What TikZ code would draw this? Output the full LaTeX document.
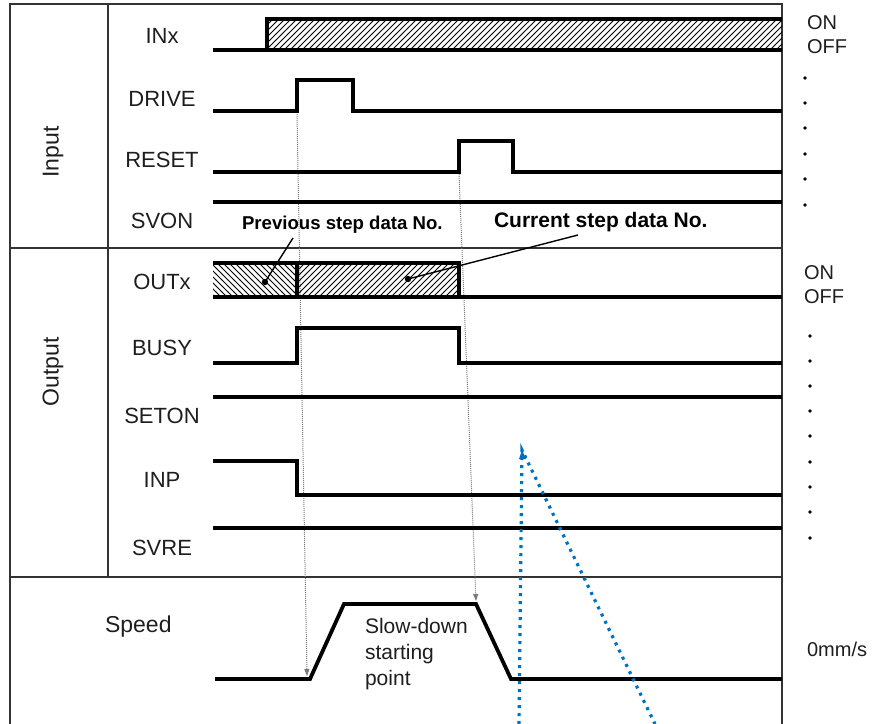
\documentclass[tikz,border=0pt]{standalone}
\usepackage{fontspec}
\setmainfont{Liberation Sans}
\usepackage{xcolor}
\usetikzlibrary{arrows.meta, patterns}
\definecolor{ChartBlue}{HTML}{0070C0}
\definecolor{ChartGray}{HTML}{7A7A7A}
\definecolor{ChartText}{HTML}{1E1E1E}

\begin{document}
\begin{tikzpicture}[x=0.5pt, y=-0.5pt,
  frame/.style={draw=black!80, line width=0.65pt},
  sig/.style={line width=1.9pt, line join=miter},
  siglabel/.style={anchor=base, font=\fontsize{11}{13}\selectfont, text=ChartText},
  grouplabel/.style={rotate=90, font=\fontsize{11.5}{13}\selectfont, text=ChartText},
  statelabel/.style={anchor=base west, align=left, font=\fontsize{10}{12}\selectfont, text=ChartText},
  notelabel/.style={anchor=base west, font=\bfseries\fontsize{9.3}{11}\selectfont},
  leader/.style={line width=0.7pt},
  guide/.style={draw=ChartGray, line width=0.5pt, dash pattern=on 0.5pt off 0.5pt, -{Triangle[length=3.5pt, width=2.5pt]}},
  callout/.style={draw=ChartBlue, line width=1.6pt, dash pattern=on 1.5pt off 2.5pt}
]
\useasboundingbox (0,0) rectangle (880,724);

% frame
\draw[frame] (10,724) -- (10,4) -- (782,4) -- (782,724);
\draw[frame] (10,248) -- (782,248);
\draw[frame] (10,577) -- (782,577);
\draw[frame] (108,4) -- (108,577);

% group and signal names
\node[grouplabel] (input) at (53,152) {Input};
\node[grouplabel] (output) at (53,372) {Output};
\node[siglabel] (inx) at (162,43) {INx};
\node[siglabel] (drive) at (162,106) {DRIVE};
\node[siglabel] (reset) at (162,167) {RESET};
\node[siglabel] (svon) at (162,228) {SVON};
\node[siglabel] (outx) at (162,289) {OUTx};
\node[siglabel] (busy) at (162,355) {BUSY};
\node[siglabel] (seton) at (162,423) {SETON};
\node[siglabel] (inp) at (162,487) {INP};
\node[siglabel] (svre) at (162,555) {SVRE};
\node[anchor=base west, font=\fontsize{11.5}{13}\selectfont, text=ChartText] (speed) at (98,632) {Speed};

% guides to the speed curve
\draw[guide] (297,114) -- (307,676);
\draw[guide] (459,174) -- (476,601);

% input signals
\fill[pattern=north east lines] (267,19) rectangle (782,50);
\draw[sig] (213,50) -- (267,50) -- (267,19) -- (782,19);
\draw[sig] (267,50) -- (782,50);
\draw[sig] (213,111) -- (297,111) -- (297,80) -- (353,80) -- (353,111) -- (782,111);
\draw[sig] (213,172) -- (459,172) -- (459,141) -- (513,141) -- (513,172) -- (782,172);
\draw[sig] (213,202) -- (782,202);

% output signals
\fill[pattern=north west lines] (213,263) rectangle (297,297);
\fill[pattern=north east lines] (297,263) rectangle (459,297);
\draw[sig] (213,263) -- (459,263) -- (459,297);
\draw[sig] (297,263) -- (297,297);
\draw[sig] (213,297) -- (782,297);
\draw[sig] (213,363) -- (297,363) -- (297,328) -- (459,328) -- (459,363) -- (782,363);
\draw[sig] (213,397) -- (782,397);
\draw[sig] (213,461) -- (297,461) -- (297,495) -- (782,495);
\draw[sig] (213,528) -- (782,528);

% speed
\draw[sig] (215,679) -- (310,679) -- (344,604) -- (476,604) -- (511,679) -- (782,679);
\node[anchor=base west, align=left, font=\fontsize{10.5}{13}\selectfont, text=ChartText] (slowdown) at (358,685) {Slow-down\\starting\\point};

% step data notes
\node[notelabel] (prevlbl) at (235,229) {Previous step data No.};
\node[notelabel, font=\bfseries\fontsize{10.5}{12}\selectfont] (currlbl) at (487,227) {Current step data No.};
\coordinate (prevtail) at (293,238);
\coordinate (prevdot) at (265,282);
\coordinate (currtail) at (578,235);
\coordinate (currdot) at (408,279);
\draw[leader] (prevtail) -- (prevdot);
\draw[leader] (currtail) -- (currdot);
\fill (prevdot) circle[radius=1.6pt];
\fill (currdot) circle[radius=1.6pt];

% states on the right
\node[statelabel] (inon) at (800,53) {ON\\OFF};
\node[statelabel] (outon) at (797,303) {ON\\OFF};
\node[statelabel] (zerospeed) at (800,656) {0mm/s};
\foreach \y in {78,103,128,154,179,205} \fill (805,\y) circle[radius=0.9pt];
\foreach \y in {336,361,386,411,436,462,487,512,538} \fill (810,\y) circle[radius=0.9pt];

% callout tail
\coordinate (tip) at (522,450);
\draw[callout] (519,724) -- (tip) -- (655,724);
\fill[ChartBlue] (tip) -- (519,459) -- (526,459) -- cycle;
\end{tikzpicture}
\end{document}
